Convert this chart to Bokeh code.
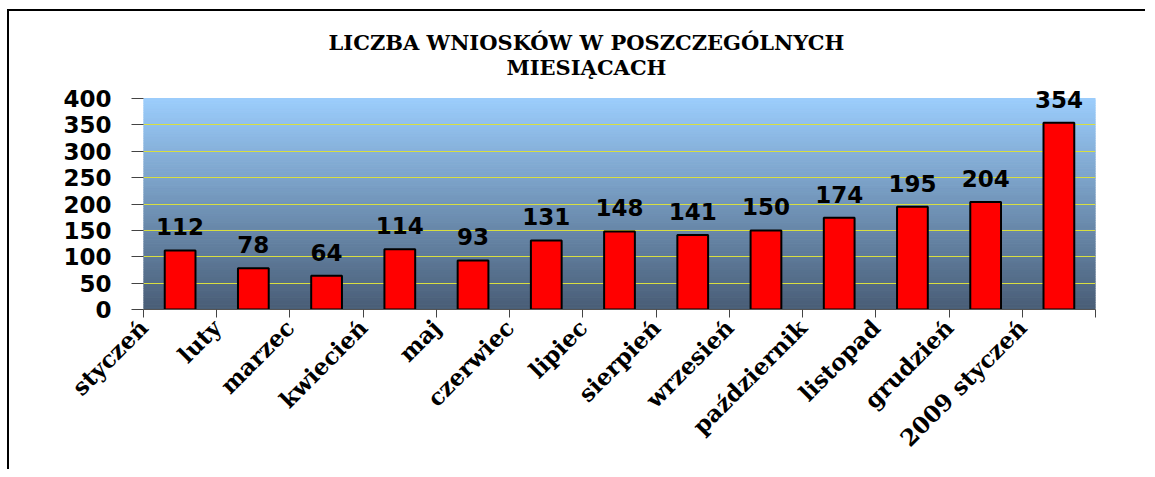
import math
import numpy as np
from bokeh.plotting import figure
from bokeh.models import (Range1d, FixedTicker, LabelSet, Label, ColumnDataSource)
from bokeh.core.properties import value
from bokeh.embed import file_html
from bokeh.resources import INLINE

# ---- data ----
months = ["styczeń", "luty", "marzec", "kwiecień", "maj", "czerwiec", "lipiec",
          "sierpień", "wrzesień", "październik", "listopad", "grudzień", "2009 styczeń"]
counts = [112, 78, 64, 114, 93, 131, 148, 141, 150, 174, 195, 204, 354]
y_ticks = [0, 50, 100, 150, 200, 250, 300, 350, 400]
title_lines = ["LICZBA WNIOSKÓW W POSZCZEGÓLNYCH", "MIESIĄCACH"]

y_max = y_ticks[-1]
n_cat = len(months)
xpos = [i + 0.5 for i in range(n_cat)]  # category centres on a 0..n axis

# layout (pixels)
area_h = 211          # height of the shaded plot area (0..400)
frame_h = 289         # frame also holds the title space above the plot area
y_top = y_max * frame_h / area_h

p = figure(x_range=Range1d(0, n_cat), y_range=Range1d(0, y_top),
           frame_width=952, frame_height=frame_h,
           min_border_left=134, min_border_right=50, min_border_top=9, min_border_bottom=160,
           output_backend="svg", toolbar_location=None,
           background_fill_color="#ffffff", border_fill_color="#ffffff",
           outline_line_color=None)
p.styles = {"border-left": "2px solid black", "border-top": "2px solid black",
            "margin-left": "7px", "margin-top": "9px"}

# ---- gradient plot area (style only) ----
n = 90
edges = np.linspace(0, y_max, n + 1)
top_rgb = np.array([155, 205, 252])
bot_rgb = np.array([73, 93, 118])
cols = []
for k in range(n):
    t = (k + 0.5) / n
    c = bot_rgb + (top_rgb - bot_rgb) * t
    cols.append("#%02x%02x%02x" % tuple(int(round(v)) for v in c))
p.quad(left=0, right=n_cat, bottom=edges[:-1], top=edges[1:],
       fill_color=cols, line_color=cols, line_width=1, level="image")

# ---- grid ----
p.xgrid.visible = False
p.ygrid.ticker = FixedTicker(ticks=y_ticks[1:-1])
p.ygrid.grid_line_color = "#d8de40"
p.ygrid.grid_line_width = 1

# ---- bars ----
src = ColumnDataSource(dict(x=xpos, y=counts, lab=[str(v) for v in counts]))
p.vbar(x="x", top="y", width=0.42, source=src, fill_color="#ff0000",
       line_color="#000000", line_width=2)

# ---- value labels ----
p.add_layout(LabelSet(x="x", y="y", text="lab", source=src,
                      text_align="center", text_baseline="bottom", y_offset=15,
                      text_font=value("DejaVu Sans"), text_font_style="bold",
                      text_font_size="23px", text_color="#000000"))

# ---- y axis ----
ya = p.yaxis[0]
ya.ticker = FixedTicker(ticks=y_ticks)
ya.major_label_text_font = "DejaVu Sans"
ya.major_label_text_font_style = "bold"
ya.major_label_text_font_size = "23px"
ya.major_label_text_color = "#000000"
ya.major_tick_out = 12
ya.major_tick_in = 0
ya.major_tick_line_color = "#444444"
ya.minor_tick_line_color = None
ya.axis_line_color = None
ya.major_label_standoff = 20

# ---- x axis: ticks at category boundaries, month names rotated ----
xa = p.xaxis[0]
xa.ticker = FixedTicker(ticks=list(range(n_cat + 1)))
overrides = {i: m for i, m in enumerate(months)}
overrides[n_cat] = ""
xa.major_label_overrides = overrides
xa.major_label_orientation = math.pi / 4
xa.major_label_text_font = "DejaVu Serif"
xa.major_label_text_font_style = "bold"
xa.major_label_text_font_size = "23px"
xa.major_label_text_color = "#000000"
xa.major_label_standoff = 6
xa.axis_line_color = "#555555"
xa.major_tick_line_color = "#444444"
xa.major_tick_out = 8
xa.major_tick_in = 0
xa.minor_tick_line_color = None

# ---- title (inside the frame, above the shaded area) ----
mid = n_cat / 2
for txt, off in zip(title_lines, (-22, -47)):
    p.add_layout(Label(x=mid, y=y_top, text=txt, x_offset=-33, y_offset=off,
                       text_align="center", text_baseline="alphabetic",
                       text_font="DejaVu Serif", text_font_style="bold",
                       text_font_size="21px", text_color="#000000"))

open("out.html", "w").write(file_html(p, INLINE))
